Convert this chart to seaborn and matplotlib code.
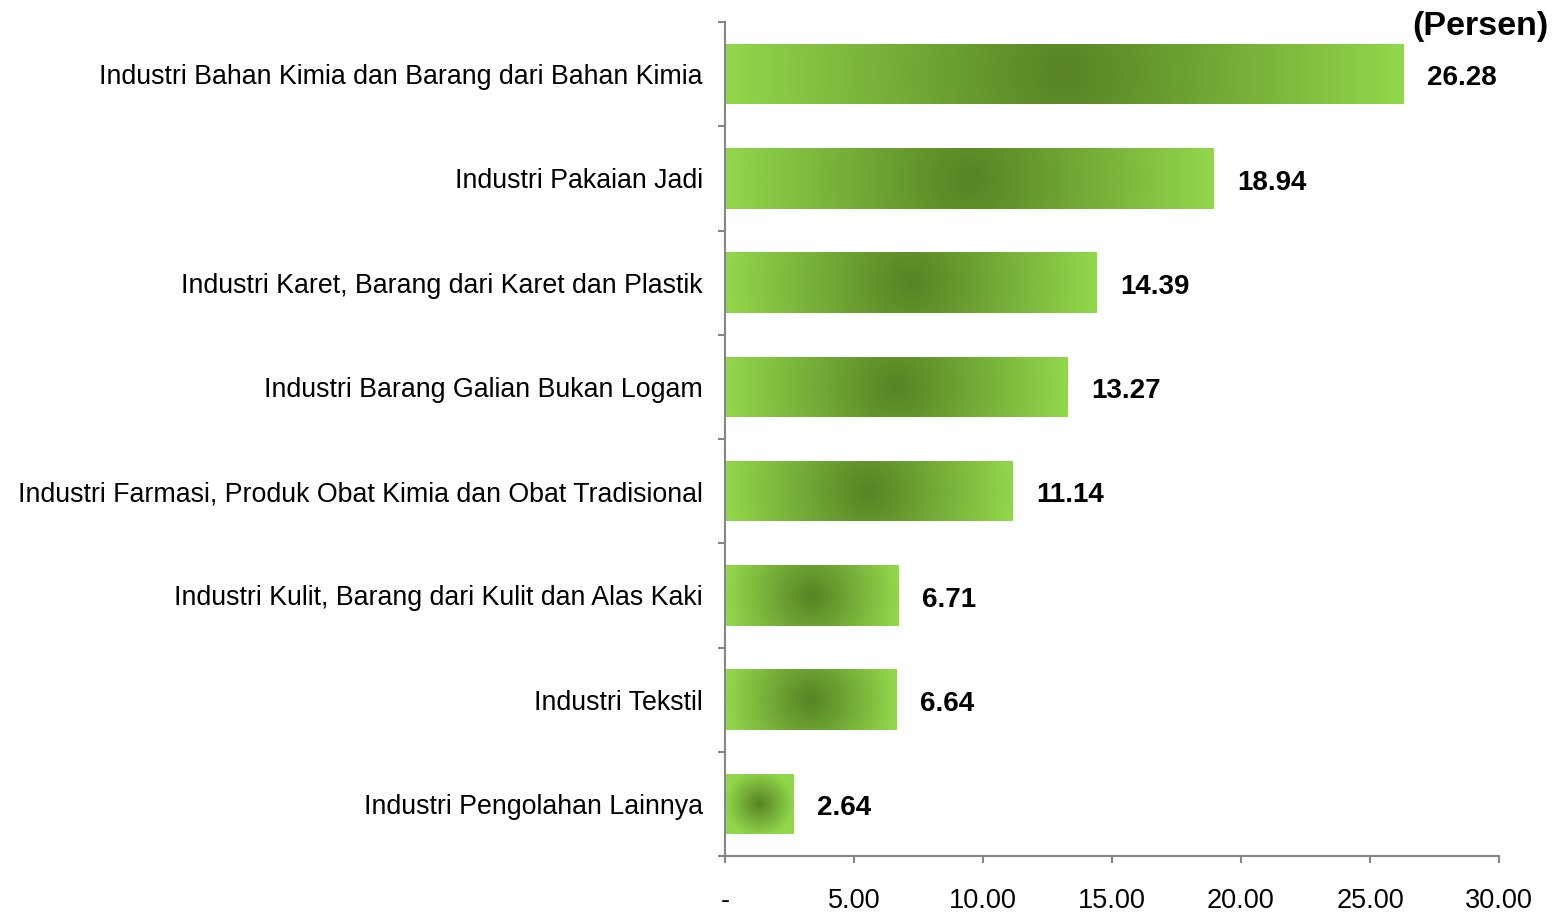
import numpy as np
import pandas as pd
import matplotlib
matplotlib.use("Agg")
import matplotlib.pyplot as plt
import seaborn as sns
from matplotlib.colors import to_rgb

# ------------------ Data ------------------
categories = [
    "Industri Bahan Kimia dan Barang dari Bahan Kimia",
    "Industri Pakaian Jadi",
    "Industri Karet, Barang dari Karet dan Plastik",
    "Industri Barang Galian Bukan Logam",
    "Industri Farmasi, Produk Obat Kimia dan Obat Tradisional",
    "Industri Kulit, Barang dari Kulit dan Alas Kaki",
    "Industri Tekstil",
    "Industri Pengolahan Lainnya",
]
values = [26.28, 18.94, 14.39, 13.27, 11.14, 6.71, 6.64, 2.64]
x_ticks = [0, 5, 10, 15, 20, 25, 30]
x_tick_labels = ["-", "5.00", "10.00", "15.00", "20.00", "25.00", "30.00"]

df = pd.DataFrame({"kategori": categories, "persen": values})

# ------------------ Style ------------------
sns.set_style("white")
plt.rcParams["font.family"] = ["Liberation Sans", "DejaVu Sans"]
plt.rcParams["text.color"] = "black"
plt.rcParams["xtick.labelcolor"] = "black"
plt.rcParams["ytick.labelcolor"] = "black"
axis_grey = "#868686"
edge_green = np.array(to_rgb("#92d74b"))
center_green = np.array(to_rgb("#578324"))

fig = plt.figure(figsize=(15.62, 9.16), dpi=100)
ax = fig.add_axes([725 / 1562, 1 - 856 / 916, (1499 - 725) / 1562, (856 - 22) / 916])

sns.barplot(data=df, x="persen", y="kategori", orient="h", width=0.58,
            color=edge_green, ax=ax)

# gradient fill (dark centre, light edges) clipped to each bar
px_x = (1499 - 725) / 30
px_y = (856 - 22) / len(categories)
for patch in ax.patches:
    x0, y0 = patch.get_x(), patch.get_y()
    w, h = patch.get_width(), patch.get_height()
    xs = np.linspace(x0, x0 + w, 400)
    ys = np.linspace(y0, y0 + h, 80)
    X, Y = np.meshgrid(xs, ys)
    dx = np.abs(X - (x0 + w / 2)) * px_x
    dy = np.abs(Y - (y0 + h / 2)) * px_y
    hw = w / 2 * px_x
    t = np.clip(np.hypot(dx, dy) / hw, 0, 1)
    img = center_green + t[..., None] * (edge_green - center_green)
    im = ax.imshow(img, extent=(x0, x0 + w, y0 + h, y0), aspect="auto",
                   interpolation="bilinear", zorder=2)
    im.set_clip_path(patch)
    patch.set_facecolor("none")
    patch.set_edgecolor("none")

ax.set_xlim(0, 30)
ax.set_ylim(len(categories) - 0.5, -0.5)

# value labels
for i, v in enumerate(values):
    ax.annotate(f"{v:.2f}", xy=(v, i), xytext=(17, -3), textcoords="offset points",
                ha="left", va="center", fontsize=20, fontweight="bold", color="black")

# axes
for s in ["top", "right"]:
    ax.spines[s].set_visible(False)
for s in ["left", "bottom"]:
    ax.spines[s].set_color(axis_grey)
    ax.spines[s].set_linewidth(1.5)

ax.set_xticks(x_ticks)
ax.set_xticklabels(x_tick_labels)
ax.tick_params(axis="x", direction="out", length=5, width=1.5, color=axis_grey,
               labelsize=19.5, pad=18, bottom=True)
ax.set_yticks(np.arange(len(categories)))
ax.set_yticklabels(categories)
ax.set_yticks(np.arange(len(categories) + 1) - 0.5, minor=True)
ax.tick_params(axis="y", which="major", length=0, labelsize=19.3, pad=16)
ax.tick_params(axis="y", which="minor", direction="out", length=5, width=1.5,
               color=axis_grey, left=True)
ax.set_xlabel("")
ax.set_ylabel("")

fig.text(1548 / 1562, 1 - 27 / 916, "(Persen)", ha="right", va="center",
         fontsize=24.5, fontweight="bold", color="black")

fig.savefig("out.png", dpi=100)
